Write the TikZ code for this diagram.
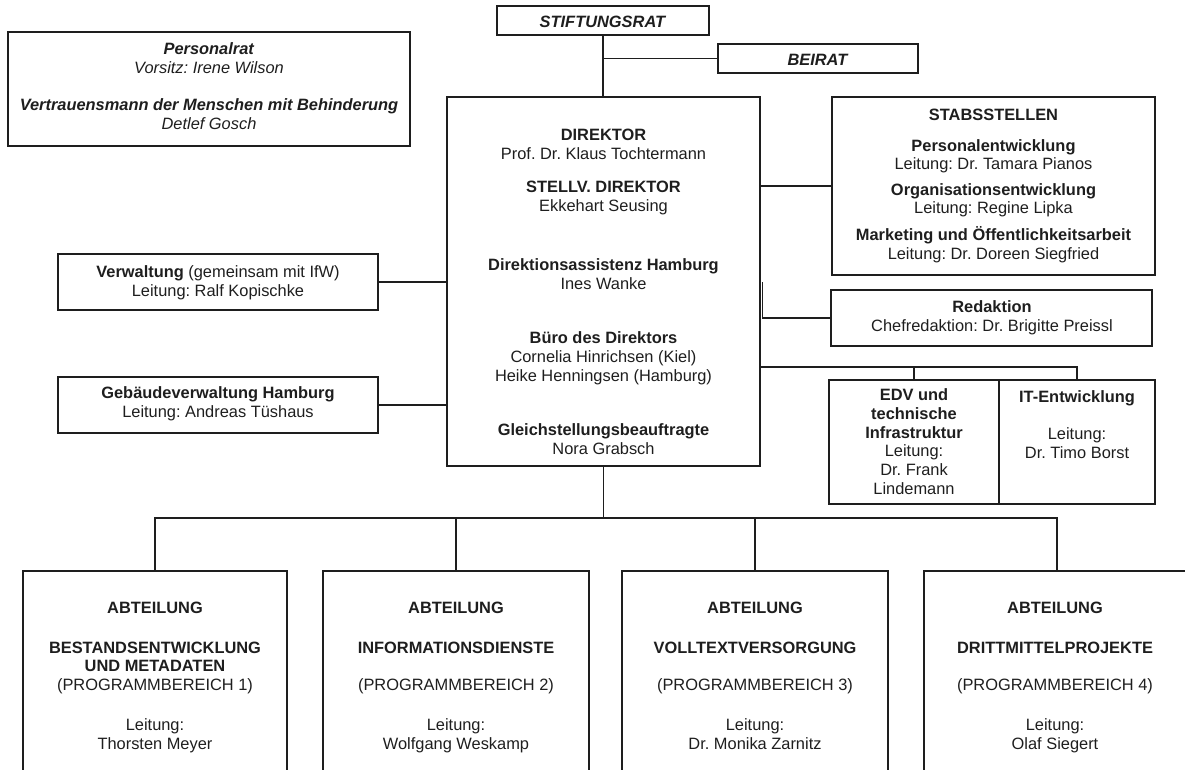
\documentclass[tikz,border=0pt]{standalone}
\usepackage{fontspec}
\setmainfont{Liberation Sans}
\usetikzlibrary{fit}
\definecolor{ink}{RGB}{30,30,30}
\tikzset{
  box/.style={draw=ink, line width=0.8pt, inner sep=0pt},
  conn/.style={draw=ink, line width=0.8pt},
  txt/.style={text=ink, align=center, anchor=base, inner sep=0pt, font=\fontsize{12.3}{14}\selectfont\frenchspacing},
}
\begin{document}
\begin{tikzpicture}[x=0.75pt,y=-0.75pt]
\useasboundingbox (0,0) rectangle (1185,769);
\clip (0,0) rectangle (1185,769);

% boxes
\node[box, fit={(8,32) (410,146)}] (pers) {};
\node[box, fit={(497,6) (709,35)}] (stift) {};
\node[box, fit={(718,44) (918,73)}] (beirat) {};
\node[box, fit={(447,97) (760,466)}] (dir) {};
\node[box, fit={(832,97) (1155,275)}] (stabs) {};
\node[box, fit={(831,290) (1152,346)}] (red) {};
\node[box, fit={(829,380) (999,504)}] (edv) {};
\node[box, fit={(999,380) (1155,504)}] (it) {};
\node[box, fit={(58,254) (378,310)}] (verw) {};
\node[box, fit={(58,377) (378,433)}] (geb) {};
\node[box, fit={(23,571) (287,790)}] (a1) {};
\node[box, fit={(323,571) (589,790)}] (a2) {};
\node[box, fit={(622,571) (888,790)}] (a3) {};
\node[box, fit={(924,571) (1190,790)}] (a4) {};

% texts (anchor base = baseline of the last line)
\node[txt] (tpers) at (209,129) {\textbf{\textit{Personalrat}}\\\textit{Vorsitz: Irene Wilson}\\[14pt]\textbf{\textit{Vertrauensmann der Menschen mit Behinderung}}\\\textit{Detlef Gosch}};
\node[txt] (tstift) at (603,27) {\textbf{\textit{STIFTUNGSRAT}}};
\node[txt] (tbeirat) at (818,65) {\textbf{\textit{BEIRAT}}};
\node[txt] (td1) at (603.5,159) {\textbf{DIREKTOR}\\Prof. Dr. Klaus Tochtermann};
\node[txt] (td2) at (603.5,211) {\textbf{STELLV. DIREKTOR}\\Ekkehart Seusing};
\node[txt] (td3) at (603.5,289) {\textbf{Direktionsassistenz Hamburg}\\Ines Wanke};
\node[txt] (td4) at (603.5,381) {\textbf{Büro des Direktors}\\Cornelia Hinrichsen (Kiel)\\Heike Henningsen (Hamburg)};
\node[txt] (td5) at (603.5,454) {\textbf{Gleichstellungsbeauftragte}\\Nora Grabsch};
\node[txt] (tstabs) at (993.5,259) {\textbf{STABSSTELLEN}\\[9pt]\textbf{Personalentwicklung}\\Leitung: Dr. Tamara Pianos\\[5pt]\textbf{Organisationsentwicklung}\\Leitung: Regine Lipka\\[6pt]\textbf{Marketing und Öffentlichkeitsarbeit}\\Leitung: Dr. Doreen Siegfried};
\node[txt] (tred) at (992,331) {\textbf{Redaktion}\\Chefredaktion: Dr. Brigitte Preissl};
\node[txt] (tedv) at (914,494) {\textbf{EDV und}\\\textbf{technische}\\\textbf{Infrastruktur}\\Leitung:\\Dr. Frank\\Lindemann};
\node[txt] (tit) at (1077,458) {\textbf{IT-Entwicklung}\\[14pt]Leitung:\\Dr. Timo Borst};
\node[txt] (tverw) at (218,296) {\textbf{Verwaltung} (gemeinsam mit IfW)\\Leitung: Ralf Kopischke};
\node[txt] (tgeb) at (218,417) {\textbf{Gebäudeverwaltung Hamburg}\\Leitung: Andreas Tüshaus};
\node[txt] (ta1) at (155,749) {\textbf{ABTEILUNG}\\[16pt]\textbf{BESTANDSENTWICKLUNG}\\\textbf{UND METADATEN}\\(PROGRAMMBEREICH 1)\\[16pt]Leitung:\\Thorsten Meyer};
\node[txt] (ta2) at (456,749) {\textbf{ABTEILUNG}\\[16pt]\textbf{INFORMATIONSDIENSTE}\\[14pt](PROGRAMMBEREICH 2)\\[16pt]Leitung:\\Wolfgang Weskamp};
\node[txt] (ta3) at (755,749) {\textbf{ABTEILUNG}\\[16pt]\textbf{VOLLTEXTVERSORGUNG}\\[14pt](PROGRAMMBEREICH 3)\\[16pt]Leitung:\\Dr. Monika Zarnitz};
\node[txt] (ta4) at (1055,749) {\textbf{ABTEILUNG}\\[16pt]\textbf{DRITTMITTELPROJEKTE}\\[14pt](PROGRAMMBEREICH 4)\\[16pt]Leitung:\\Olaf Siegert};

% connectors
\draw[conn] (stift.south) -- (stift.south |- dir.north);
\draw[conn] (stift.south |- beirat.west) -- (beirat.west);
\draw[conn] (dir.east |- stabs.west) -- (stabs.west);
\draw[conn] ([xshift=1.5pt]dir.east |- verw.east) -- ([xshift=1.5pt]dir.east |- red.west) -- (red.west);
\coordinate (itbus) at (760,367);
\draw[conn] (itbus) -- (itbus -| it.north) -- (it.north);
\draw[conn] (itbus -| edv.north) -- (edv.north);
\draw[conn] (verw.east) -- (verw.east -| dir.west);
\draw[conn] (geb.east) -- (geb.east -| dir.west);
\coordinate (bus) at (603.5,518);
\draw[conn] (dir.south) -- (bus);
\draw[conn] (a1.north) -- (a1.north |- bus) -- (a4.north |- bus) -- (a4.north);
\draw[conn] (a2.north |- bus) -- (a2.north);
\draw[conn] (a3.north |- bus) -- (a3.north);
\end{tikzpicture}
\end{document}
